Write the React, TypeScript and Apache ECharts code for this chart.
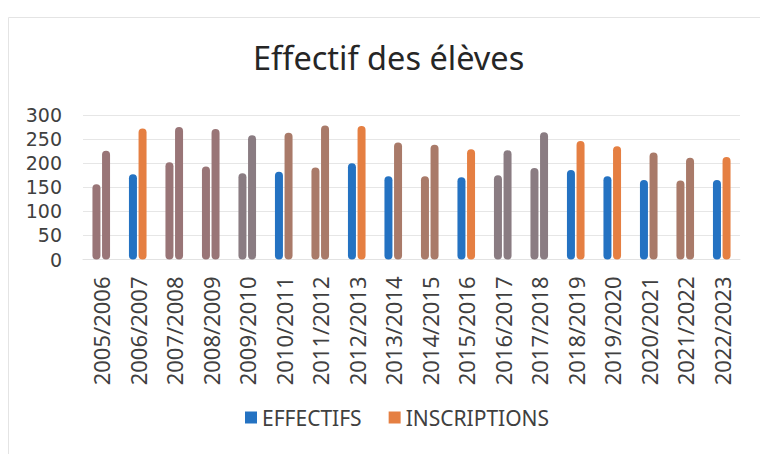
import React, { useEffect, useRef } from "react";
import * as echarts from "echarts";

const categories = [
  "2005/2006", "2006/2007", "2007/2008", "2008/2009", "2009/2010", "2010/2011",
  "2011/2012", "2012/2013", "2013/2014", "2014/2015", "2015/2016", "2016/2017",
  "2017/2018", "2018/2019", "2019/2020", "2020/2021", "2021/2022", "2022/2023",
];
const effectifs = [156, 177, 202, 193, 179, 182, 191, 200, 173, 173, 171, 175, 190, 186, 173, 165, 164, 165];
const inscriptions = [226, 272, 275, 271, 258, 263, 278, 277, 243, 238, 229, 227, 264, 246, 235, 222, 211, 213];
const yTicks = { min: 0, max: 300, interval: 50 };

// per-bar tint codes as they appear in the picture
const effTints = ["m", "b", "m", "m", "g", "b", "r", "b", "b", "r", "b", "g", "g", "b", "b", "b", "r", "b"];
const insTints = ["m", "o", "m", "m", "g", "r", "r", "o", "r", "r", "o", "g", "g", "o", "o", "r", "r", "o"];
const palette: Record<string, string> = {
  b: "#2472c2",
  o: "#e57f42",
  m: "#997577",
  g: "#8a7c82",
  r: "#a97a69",
};

const FONT = "Noto Sans";

export default function App() {
  const ref = useRef<HTMLDivElement>(null);
  useEffect(() => {
    if (!ref.current) return;
    const chart = echarts.init(ref.current, undefined, { renderer: "svg" });
    const barStyle = { borderRadius: 4 };
    chart.setOption({
      animation: false,
      backgroundColor: "#ffffff",
      title: {
        text: "Effectif des élèves",
        left: 248,
        top: 36,
        textStyle: { fontFamily: FONT, fontSize: 32.5, fontWeight: "normal", color: "#262626" },
      },
      graphic: [
        {
          type: "rect",
          shape: { x: 8.5, y: 17.5, width: 800, height: 500 },
          style: { fill: "none", stroke: "#e4e4e4", lineWidth: 1 },
          silent: true,
        },
      ],
      legend: {
        bottom: 21,
        left: 240,
        itemWidth: 12,
        itemHeight: 12,
        itemGap: 27,
        icon: "rect",
        textStyle: { fontFamily: FONT, fontSize: 21, color: "#404040" },
        data: [
          { name: "EFFECTIFS", itemStyle: { color: palette.b } },
          { name: "INSCRIPTIONS", itemStyle: { color: palette.o } },
        ],
      },
      grid: { left: 83, right: 20, top: 115, bottom: 194.5 },
      xAxis: {
        type: "category",
        data: categories,
        axisTick: { show: false },
        axisLine: { show: true, lineStyle: { color: "#e2e2e2" } },
        axisLabel: {
          rotate: 90,
          interval: 0,
          margin: 17,
          fontFamily: FONT,
          fontSize: 22,
          lineHeight: 22,
          color: "#404040",
        },
      },
      yAxis: {
        type: "value",
        min: yTicks.min,
        max: yTicks.max,
        interval: yTicks.interval,
        axisLine: { show: false },
        axisTick: { show: false },
        splitLine: { lineStyle: { color: "#e6e6e6" } },
        axisLabel: {
          fontFamily: "DejaVu Sans",
          fontSize: 19,
          lineHeight: 19,
          color: "#404040",
          margin: 21,
        },
      },
      series: [
        {
          name: "EFFECTIFS",
          type: "bar",
          barWidth: 8,
          barGap: "20%",
          itemStyle: { color: palette.b, ...barStyle },
          data: effectifs.map((v, i) => ({ value: v, itemStyle: { color: palette[effTints[i]] } })),
        },
        {
          name: "INSCRIPTIONS",
          type: "bar",
          barWidth: 8,
          barGap: "20%",
          itemStyle: { color: palette.o, ...barStyle },
          data: inscriptions.map((v, i) => ({ value: v, itemStyle: { color: palette[insTints[i]] } })),
        },
      ],
    });
    return () => chart.dispose();
  }, []);
  return (
    <div
      ref={ref}
      style={{ position: "fixed", left: 0, top: 0, width: 760, height: 454 }}
    />
  );
}
